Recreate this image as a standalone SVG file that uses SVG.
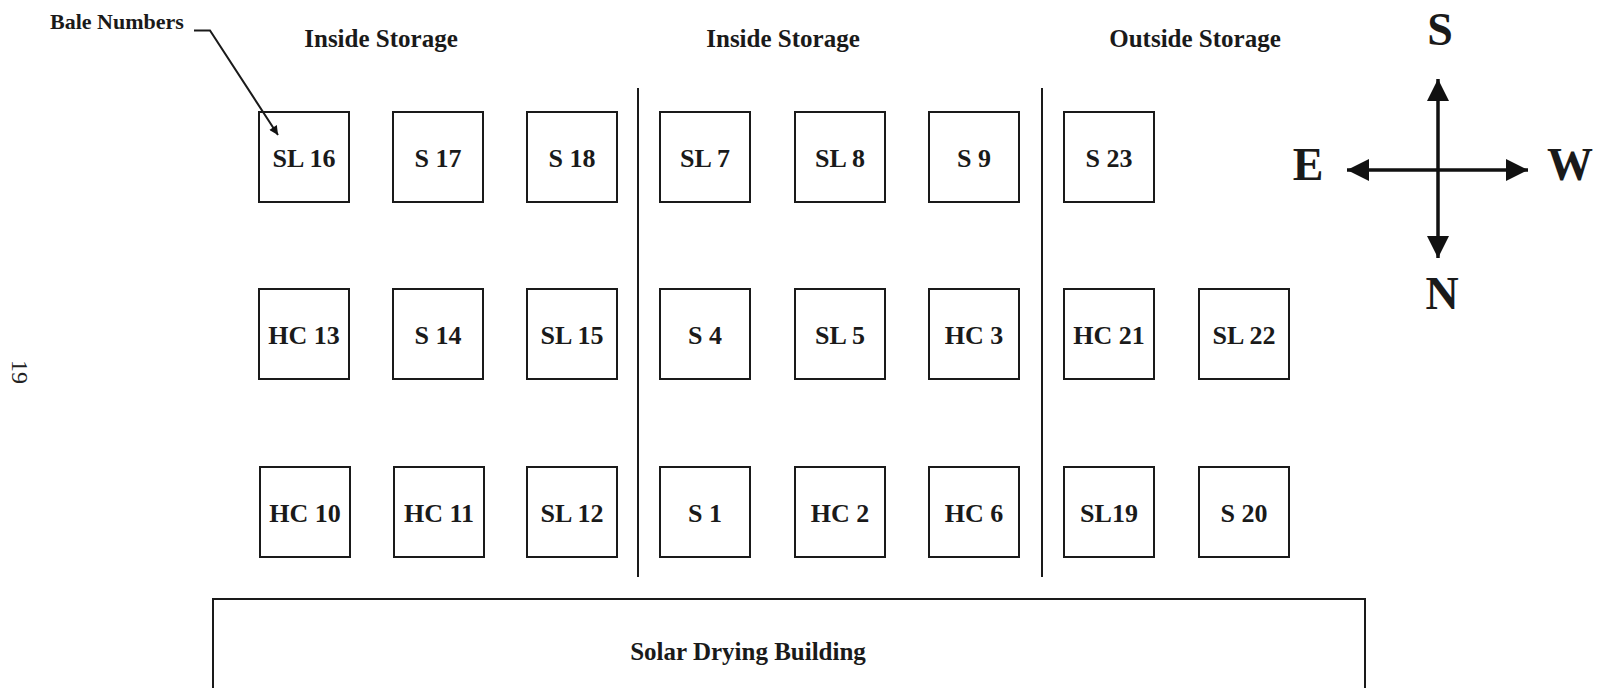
<svg xmlns="http://www.w3.org/2000/svg" width="1601" height="688" viewBox="0 0 1601 688">
<defs>
<style>
.bg{fill:#ffffff}
.box{fill:#ffffff;stroke:#1a1a1a;stroke-width:2}
.lbl{font-family:"Liberation Serif","Times New Roman",serif;font-weight:bold;font-size:26px;fill:#1a1a1a;text-anchor:middle}
.hdr{font-family:"Liberation Serif","Times New Roman",serif;font-weight:bold;font-size:25px;fill:#1a1a1a;text-anchor:middle}
.cmp{font-family:"Liberation Serif","Times New Roman",serif;font-weight:bold;font-size:46px;fill:#1a1a1a;text-anchor:middle}
.line{stroke:#1a1a1a;stroke-width:2;fill:none}
.arr{stroke:#111;stroke-width:3.5;fill:none}
</style>
<marker id="head" viewBox="0 0 10 10" refX="10" refY="5" markerWidth="22" markerHeight="24" markerUnits="userSpaceOnUse" orient="auto">
<path d="M0,0 L10,5 L0,10 Z" fill="#111"/>
</marker>
<marker id="lead" viewBox="0 0 10 10" refX="10" refY="5" markerWidth="16" markerHeight="9" markerUnits="userSpaceOnUse" orient="auto">
<path d="M0,0 L10,5 L0,10 Z" fill="#111"/>
</marker>
</defs>
<rect class="bg" x="0" y="0" width="1601" height="688"/>

<g id="headers">
<text class="hdr" x="50" y="29" style="font-size:22px;text-anchor:start">Bale Numbers</text>
<text class="hdr" x="381" y="47">Inside Storage</text>
<text class="hdr" x="783" y="47">Inside Storage</text>
<text class="hdr" x="1195" y="47">Outside Storage</text>
<text x="20" y="372" transform="rotate(90 20 372)" style="font-family:'Liberation Serif',serif;font-size:24px;fill:#222;text-anchor:middle;dominant-baseline:central">19</text>
</g>

<g id="bale-SL16"><rect class="box" x="259" y="112" width="90" height="90"/><text class="lbl" x="304" y="167">SL 16</text></g>
<g id="bale-S17"><rect class="box" x="393" y="112" width="90" height="90"/><text class="lbl" x="438" y="167">S 17</text></g>
<g id="bale-S18"><rect class="box" x="527" y="112" width="90" height="90"/><text class="lbl" x="572" y="167">S 18</text></g>
<g id="bale-SL7"><rect class="box" x="660" y="112" width="90" height="90"/><text class="lbl" x="705" y="167">SL 7</text></g>
<g id="bale-SL8"><rect class="box" x="795" y="112" width="90" height="90"/><text class="lbl" x="840" y="167">SL 8</text></g>
<g id="bale-S9"><rect class="box" x="929" y="112" width="90" height="90"/><text class="lbl" x="974" y="167">S 9</text></g>
<g id="bale-S23"><rect class="box" x="1064" y="112" width="90" height="90"/><text class="lbl" x="1109" y="167">S 23</text></g>

<g id="bale-HC13"><rect class="box" x="259" y="289" width="90" height="90"/><text class="lbl" x="304" y="344">HC 13</text></g>
<g id="bale-S14"><rect class="box" x="393" y="289" width="90" height="90"/><text class="lbl" x="438" y="344">S 14</text></g>
<g id="bale-SL15"><rect class="box" x="527" y="289" width="90" height="90"/><text class="lbl" x="572" y="344">SL 15</text></g>
<g id="bale-S4"><rect class="box" x="660" y="289" width="90" height="90"/><text class="lbl" x="705" y="344">S 4</text></g>
<g id="bale-SL5"><rect class="box" x="795" y="289" width="90" height="90"/><text class="lbl" x="840" y="344">SL 5</text></g>
<g id="bale-HC3"><rect class="box" x="929" y="289" width="90" height="90"/><text class="lbl" x="974" y="344">HC 3</text></g>
<g id="bale-HC21"><rect class="box" x="1064" y="289" width="90" height="90"/><text class="lbl" x="1109" y="344">HC 21</text></g>
<g id="bale-SL22"><rect class="box" x="1199" y="289" width="90" height="90"/><text class="lbl" x="1244" y="344">SL 22</text></g>

<g id="bale-HC10"><rect class="box" x="260" y="467" width="90" height="90"/><text class="lbl" x="305" y="522">HC 10</text></g>
<g id="bale-HC11"><rect class="box" x="394" y="467" width="90" height="90"/><text class="lbl" x="439" y="522">HC 11</text></g>
<g id="bale-SL12"><rect class="box" x="527" y="467" width="90" height="90"/><text class="lbl" x="572" y="522">SL 12</text></g>
<g id="bale-S1"><rect class="box" x="660" y="467" width="90" height="90"/><text class="lbl" x="705" y="522">S 1</text></g>
<g id="bale-HC2"><rect class="box" x="795" y="467" width="90" height="90"/><text class="lbl" x="840" y="522">HC 2</text></g>
<g id="bale-HC6"><rect class="box" x="929" y="467" width="90" height="90"/><text class="lbl" x="974" y="522">HC 6</text></g>
<g id="bale-SL19"><rect class="box" x="1064" y="467" width="90" height="90"/><text class="lbl" x="1109" y="522">SL19</text></g>
<g id="bale-S20"><rect class="box" x="1199" y="467" width="90" height="90"/><text class="lbl" x="1244" y="522">S 20</text></g>

<g id="solar-building">
<path class="line" d="M213,690 L213,599 L1365,599 L1365,690"/>
<text class="hdr" x="748" y="660">Solar Drying Building</text>
</g>

<g id="connectors">
<polyline class="line" points="194,30.5 210,30.5 278,135" stroke-width="2.5" marker-end="url(#lead)"/>
<line class="line" x1="638" y1="88" x2="638" y2="577"/>
<line class="line" x1="1042" y1="88" x2="1042" y2="577"/>
</g>

<g id="compass">
<line class="arr" x1="1438" y1="170" x2="1438" y2="79" marker-end="url(#head)"/>
<line class="arr" x1="1438" y1="170" x2="1438" y2="258" marker-end="url(#head)"/>
<line class="arr" x1="1438" y1="170" x2="1347" y2="170" marker-end="url(#head)"/>
<line class="arr" x1="1438" y1="170" x2="1528" y2="170" marker-end="url(#head)"/>
<text class="cmp" x="1440" y="45">S</text>
<text class="cmp" x="1308" y="180">E</text>
<text class="cmp" x="1570" y="180">W</text>
<text class="cmp" x="1442" y="309">N</text>
</g>
</svg>
